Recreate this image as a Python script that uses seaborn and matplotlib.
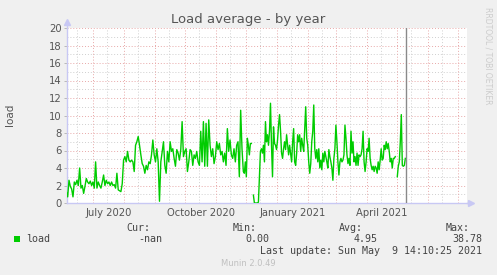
import numpy as np
import pandas as pd
import matplotlib
matplotlib.use("Agg")
import matplotlib.pyplot as plt
from matplotlib.patches import Rectangle
import seaborn as sns

# ---- data ----
load_a = [1.3, 0.7, 2.6, 1.9, 1.6, 0.7, 2.4, 2.1, 2.6, 2.0,
          4.0, 1.7, 2.0, 1.1, 1.9, 2.8, 2.4, 2.2, 2.5, 2.0,
          2.4, 1.7, 4.7, 1.7, 2.4, 2.0, 1.7, 2.4, 3.2, 2.0,
          2.6, 2.2, 2.4, 2.0, 2.4, 2.0, 2.1, 1.7, 3.4, 1.5,
          1.4, 1.3, 2.2, 4.9, 5.3, 4.7, 5.9, 4.9, 4.7, 4.9,
          4.7, 3.6, 6.6, 7.0, 7.6, 6.6, 5.5, 4.5, 4.2, 3.4,
          4.3, 3.8, 4.7, 4.5, 5.5, 7.2, 5.5, 4.7, 6.2, 4.7,
          0.2, 4.7, 5.9, 7.0, 4.3, 3.4, 5.9, 4.7, 7.0, 5.9,
          6.2, 5.1, 4.2, 6.1, 5.7, 4.9, 6.1, 9.3, 5.3, 5.9,
          6.2, 3.6, 4.7, 6.1, 5.9, 4.3, 5.5, 5.1, 5.9, 4.7,
          4.3, 8.2, 4.7, 9.3, 4.2, 9.1, 4.2, 9.5, 6.6, 5.3,
          6.2, 4.5, 5.3, 7.0, 6.1, 6.8, 5.5, 5.9, 4.7, 5.7,
          4.3, 8.5, 5.9, 7.2, 5.5, 5.1, 6.2, 4.7, 6.6, 7.0,
          3.0, 10.6, 6.2, 3.6]
start_a, end_a = "2020-06-04", "2020-11-28"

load_b = [3.4, 4.7, 3.0, 7.4, 6.6, 5.5, 6.8, 6.8, np.nan, 0.9,
          0.0, 0.0, 0.0, 0.0, 0.1, 3.0, 5.9,
          6.2, 5.7, 6.6, 4.7, 9.3, 7.0, 7.8, 6.6, 8.2,
          11.4, 6.6, 3.0, 8.7, 6.8, 6.6, 6.1, 7.2, 8.9, 10.1,
          8.2, 5.7, 5.1, 6.2, 7.0, 6.1, 7.8, 6.6, 5.5, 6.6,
          5.7, 4.7, 7.0, 8.5, 4.7, 4.3, 5.7, 7.8, 7.0, 7.8,
          5.9, 7.4, 6.6, 5.9, 8.5, 11.0, 7.4, 6.6, 4.7, 3.4,
          4.5, 7.0, 8.2, 11.2, 6.2, 5.1, 6.1, 4.7, 6.2, 4.0,
          4.9, 3.8, 5.7, 4.7, 5.9, 5.3, 4.7, 4.0, 6.1, 5.3,
          4.7, 4.0, 2.6, 5.1, 6.2, 8.9, 7.0, 4.7, 3.2, 4.7,
          5.1, 4.7, 4.9, 5.5, 8.9, 7.4, 5.5, 4.5, 5.1, 4.3,
          8.2, 5.7, 7.0, 4.7, 5.3, 4.3, 5.7, 4.3, 5.5, 5.3,
          5.5, 6.2, 8.2, 4.7, 3.6, 4.7, 6.2, 5.9, 7.4, 5.1,
          4.3, 3.8, 4.2, 3.6, 4.2, 4.0, 3.4, 4.7, 3.8, 4.9,
          6.2, 4.9, 5.1, 6.6, 6.1, 7.0, 6.2, 6.8, 5.9, 4.7,
          5.1, 4.0, 5.1, 5.1, 5.3, np.nan,
          3.0, 4.2, 4.7, 7.0, 10.1, 4.3, 4.2, 4.3, 5.1]
start_b, end_b = "2020-11-29", "2021-05-09"

tick_labels = ["July 2020", "October 2020", "January 2021", "April 2021"]
tick_dates = ["2020-07-16", "2020-10-17", "2021-01-16", "2021-04-15"]
y_ticks = [0, 2, 4, 6, 8, 10, 12, 14, 16, 18, 20]
last_update = "2021-05-09 14:10:25"
stat_names = ["Cur:", "Min:", "Avg:", "Max:"]
stat_values = ["-nan", "0.00", "4.95", "38.78"]
series_name = "load"

# ---- build table ----
dates = np.concatenate([
    pd.date_range(start_a, end_a, periods=len(load_a)).values,
    pd.date_range(start_b, end_b, periods=len(load_b)).values])
vals = np.array(load_a + load_b, dtype=float)
df = pd.DataFrame({"date": pd.to_datetime(dates), "load": vals})
df["seg"] = df["load"].isna().cumsum()
df = df.dropna().reset_index(drop=True)

# ---- figure ----
W, H = 497, 275
BG = "#f0f0f0"
fig = plt.figure(figsize=(W / 100, H / 100), dpi=100, facecolor=BG)
ax = fig.add_axes([67 / W, 1 - 203 / H, 400 / W, 175 / H])
ax.set_facecolor("white")

x0 = pd.Timestamp("2020-06-04 16:00")
x1 = pd.Timestamp("2021-07-09 16:00")
ax.set_xlim(x0, x1)
ax.set_ylim(0, 20)

RED = "#e8a8a8"
GRAY = "#cfcfcf"
dots = (0, (1, 2))
for v in range(1, 21):
    ax.axhline(v, color=RED if v % 2 == 0 else GRAY, lw=0.7, ls=dots, zorder=0)
for d in pd.date_range("2020-06-01", "2021-07-31", freq="MS"):
    if x0 < d < x1:
        ax.axvline(d, color=RED, lw=0.7, ls=dots, zorder=0)
    m = d + pd.Timedelta(days=14)
    if x0 < m < x1:
        ax.axvline(m, color=GRAY, lw=0.7, ls=dots, zorder=0)

sns.lineplot(data=df, x="date", y="load", units="seg", estimator=None,
             color="#00cc00", lw=1.0, ax=ax, legend=False, zorder=3)
ax.set_xlabel("")
ax.set_ylabel("")

ax.axvline(pd.Timestamp(last_update), color="#8a8a8a", lw=1.0, zorder=4)

ax.set_yticks(y_ticks)
ax.set_yticklabels([str(t) for t in y_ticks])
ax.set_xticks(pd.to_datetime(tick_dates))
ax.set_xticklabels(tick_labels)
ax.tick_params(axis="y", length=2.5, width=0.6, color="#b0b0b0", pad=1.5,
               labelsize=7.2, labelcolor="#555555")
ax.tick_params(axis="x", length=0, pad=3.5, labelsize=7.2, labelcolor="#555555")

for s in ["top", "right"]:
    ax.spines[s].set_visible(False)
AX = "#c8c8f4"
for s in ["left", "bottom"]:
    ax.spines[s].set_color(AX)
    ax.spines[s].set_linewidth(1.0)
ax.plot([0, 0], [1, 1.03], transform=ax.transAxes, color=AX, lw=1.0, clip_on=False)
ax.plot([0], [1.035], marker="^", ms=5, color=AX, transform=ax.transAxes, clip_on=False)
ax.plot([1, 1.008], [0, 0], transform=ax.transAxes, color=AX, lw=1.0, clip_on=False)
ax.plot([1.01], [0], marker=">", ms=5, color=AX, transform=ax.transAxes, clip_on=False)

def px(x, y):
    return x / W, 1 - y / H

fig.text(*px(248, 19), "Load average - by year", ha="center", va="center",
         fontsize=9.5, color="#555555")
fig.text(*px(10, 115), "load", rotation=90, ha="center", va="center",
         fontsize=7.5, color="#555555")
fig.text(*px(488, 56), "RRDTOOL / TOBI OETIKER", rotation=270, ha="center",
         va="center", fontsize=5.5, color="#cccccc")

mono = dict(family="DejaVu Sans Mono", fontsize=7.2, color="#444444", va="center")
fig.patches.append(Rectangle(px(14, 242), 6 / W, 6 / H, transform=fig.transFigure,
                             facecolor="#00cc00", edgecolor="none"))
fig.text(*px(26, 239.5), series_name, ha="left", **mono)
head_x = [150, 257, 363, 470]
val_x = [162, 269, 378, 482]
for name, v, hx, vx in zip(stat_names, stat_values, head_x, val_x):
    fig.text(*px(hx, 228), name, ha="right", **mono)
    fig.text(*px(vx, 239.5), v, ha="right", **mono)
lu = pd.Timestamp(last_update)
lu_txt = "Last update: " + lu.strftime("%a %b ") + f"{lu.day:2d} " + lu.strftime("%H:%M:%S %Y")
fig.text(*px(482, 251.5), lu_txt, ha="right", **mono)
fig.text(*px(248, 263), "Munin 2.0.49", ha="center", va="center",
         fontsize=6, color="#c0c0c0")

fig.savefig("out.png", dpi=100, facecolor=BG)
